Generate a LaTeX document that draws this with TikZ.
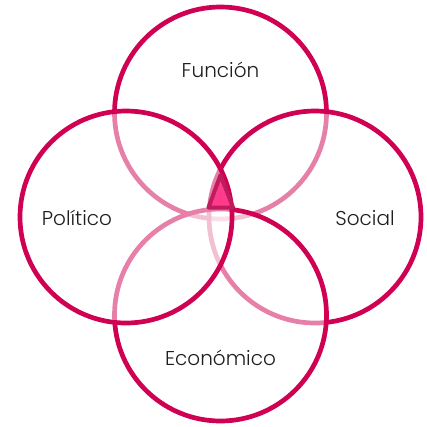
\documentclass[tikz,border=0pt]{standalone}
\usepackage{fontspec}
\setmainfont{Poppins}[UprightFont=* Light]
\definecolor{ringc}{RGB}{208,0,82}
\definecolor{trifill}{RGB}{255,60,140}
\definecolor{triline}{RGB}{190,28,94}
\definecolor{txt}{RGB}{30,30,30}
\begin{document}
\begin{tikzpicture}[x=1pt,y=-1pt,
  ring/.style={circle, draw=ringc, line width=4.7pt, fill=white, fill opacity=0.5, minimum size=212pt, inner sep=0pt},
  lbl/.style={anchor=base, text=txt, font=\fontsize{20}{24}\selectfont, inner sep=0pt},
  tri/.style={draw=triline, fill=trifill, line width=4pt, line join=round}]
\useasboundingbox (0,0) rectangle (427,426);
\node[ring] (fun) at (220.5,113) {};
\node[ring] (soc) at (315,217) {};
\node[ring] (eco) at (220.5,315) {};
\node[ring] (pol) at (126,217) {};
\coordinate (ta) at (220.5,175);
\coordinate (tb) at (208.5,207.5);
\coordinate (tc) at (233,207.5);
\draw[tri] (ta) -- (tb) -- (tc) -- cycle;
\node[lbl] (tfun) at (220.5,77) {Función};
\node[lbl] (tpol) at (77,225) {Político};
\node[lbl] (tsoc) at (365,225) {Social};
\node[lbl] (teco) at (220.5,365.5) {Económico};
\end{tikzpicture}
\end{document}
